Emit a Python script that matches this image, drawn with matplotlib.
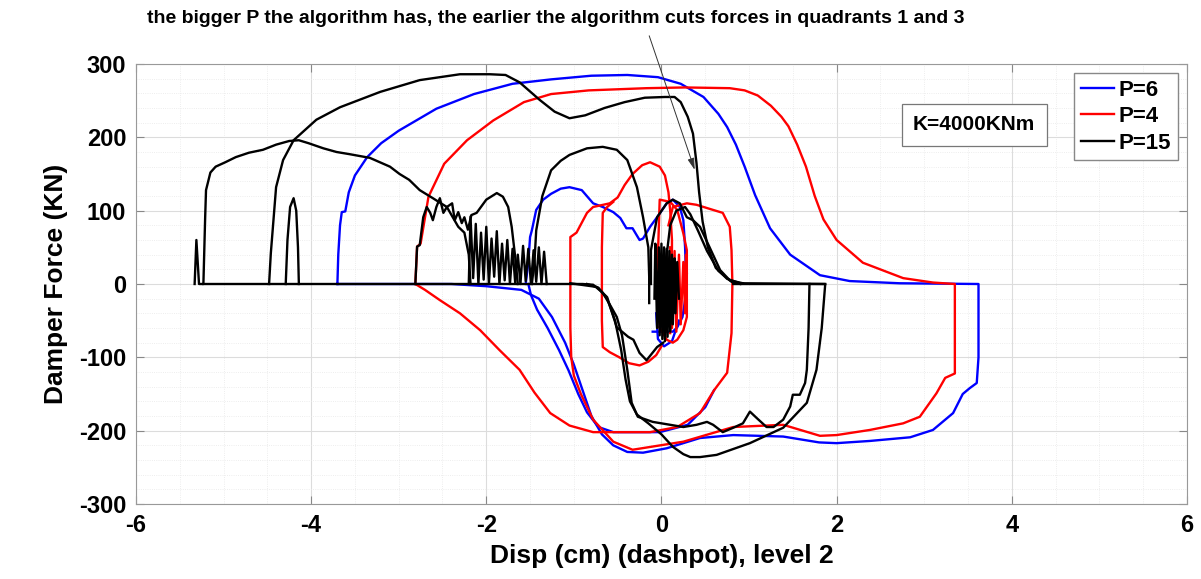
import numpy as np
import matplotlib.pyplot as plt
from matplotlib.ticker import MultipleLocator
from matplotlib.lines import Line2D

plt.rcParams['font.family'] = ['Liberation Sans', 'DejaVu Sans']
plt.rcParams['font.weight'] = 'bold'
plt.rcParams['axes.unicode_minus'] = False

# DATA (disp in cm, force in KN) #

# P=6 (blue)
p6_outer = [(-3.70, 0), (-3.69, 40), (-3.67, 80), (-3.65, 98), (-3.61, 99), (-3.57, 125), (-3.50, 148),
            (-3.36, 173), (-3.20, 192), (-3.00, 209), (-2.57, 239), (-2.14, 259), (-1.70, 273),
            (-1.26, 279), (-0.80, 284), (-0.39, 285), (-0.04, 282), (0.22, 273), (0.48, 255),
            (0.65, 232), (0.75, 214), (0.85, 190), (0.95, 160), (1.07, 121), (1.24, 76), (1.47, 40),
            (1.81, 12), (2.15, 4), (2.72, 1), (3.62, 0), (3.62, -100), (3.60, -135), (3.52, -142),
            (3.44, -150), (3.33, -176), (3.10, -199), (2.84, -209), (2.38, -214), (2.00, -217),
            (1.80, -216), (1.39, -208), (0.82, -206), (0.44, -210), (0.06, -224), (-0.21, -230),
            (-0.39, -229), (-0.55, -220), (-0.68, -205), (-0.80, -180), (-0.90, -145), (-1.00, -110),
            (-1.10, -80), (-1.25, -45), (-1.40, -20), (-1.60, -8), (-2.00, -3), (-2.40, 0), (-3.70, 0)]
p6_inner = [(-1.55, 0), (-1.52, 30), (-1.50, 64), (-1.48, 73), (-1.43, 101), (-1.35, 115), (-1.26, 123),
            (-1.15, 130), (-1.05, 132), (-0.91, 128), (-0.78, 110), (-0.67, 105), (-0.55, 98),
            (-0.47, 90), (-0.40, 76), (-0.33, 76), (-0.25, 60), (-0.21, 62), (-0.13, 78), (-0.05, 91),
            (0.06, 110), (0.13, 115), (0.21, 105), (0.25, 87), (0.27, 50), (0.28, 10), (0.27, -22),
            (0.24, -45), (0.18, -59), (0.13, -65), (-0.10, -65)]
p6_small = [(0.20, -50), (0.12, -78), (0.03, -85), (-0.04, -75), (-0.06, -40)]
p6_lower = [(-1.52, 0), (-1.49, -15), (-1.42, -35), (-1.30, -60), (-1.17, -90), (-1.06, -118),
            (-0.95, -150), (-0.85, -175), (-0.72, -195), (-0.55, -202), (-0.02, -202), (0.30, -192),
            (0.50, -168), (0.60, -145)]

# P=4 (red)
p4_outer = [(-2.81, 0), (-2.79, 51), (-2.75, 55), (-2.66, 119), (-2.48, 164), (-2.22, 196), (-1.92, 223),
            (-1.57, 248), (-1.26, 259), (-0.83, 264), (-0.17, 267), (0.27, 268), (0.78, 267),
            (0.95, 264), (1.10, 257), (1.25, 243), (1.37, 228), (1.45, 215), (1.55, 190), (1.65, 160),
            (1.75, 120), (1.85, 88), (2.00, 60), (2.30, 29), (2.76, 8), (3.10, 2), (3.35, 0),
            (3.35, -122), (3.24, -128), (3.14, -149), (2.95, -181), (2.76, -190), (2.38, -199),
            (2.00, -206), (1.81, -207), (1.39, -192), (0.82, -195), (0.25, -215), (-0.33, -226),
            (-0.55, -215), (-0.78, -185), (-0.92, -150), (-1.00, -125), (-1.03, -100), (-1.04, -60),
            (-1.04, 0), (-1.04, 64), (-0.97, 70), (-0.85, 97), (-0.78, 105), (-0.59, 110), (-0.50, 118),
            (-0.42, 135), (-0.33, 150), (-0.22, 162), (-0.13, 166), (-0.02, 160), (0.04, 148),
            (0.08, 125), (0.10, 100), (0.12, 60), (0.12, 0), (0.11, -50), (0.10, -67)]
p4_lower = [(-2.81, 0), (-2.70, -8), (-2.53, -22), (-2.30, -40), (-2.07, -63), (-1.85, -90),
            (-1.62, -117), (-1.45, -148), (-1.27, -176), (-1.05, -193), (-0.78, -202), (-0.13, -202),
            (0.18, -195), (0.44, -176), (0.60, -145), (0.75, -121), (0.80, -67), (0.81, 0), (0.80, 46),
            (0.78, 78), (0.70, 97), (0.59, 101), (0.40, 108), (0.29, 110), (0.13, 105), (0.08, 80)]
p4_mid = [(-0.55, 112), (-0.62, 105), (-0.67, 97), (-0.68, 50), (-0.68, -50), (-0.67, -86),
          (-0.59, -93), (-0.48, -100), (-0.37, -108), (-0.25, -111), (-0.15, -106), (-0.06, -97),
          (0.00, -85)]
p4_ring = [(-0.02, -59), (-0.04, 40), (-0.02, 115), (0.10, 112), (0.18, 101), (0.25, 69), (0.29, 46),
           (0.29, -45), (0.25, -63), (0.18, -76), (0.13, -80), (0.06, -76), (-0.02, -59)]
p4_core = [(0.10, 50), (0.12, -60), (0.15, 45), (0.17, -65), (0.20, 40), (0.22, -55), (0.25, 30),
           (0.27, -40), (0.28, 40), (0.29, 15)]

# P=15 (black)
p15_left = [(-5.33, 0), (-5.31, 60), (-5.28, 0), (-5.23, 0), (-5.21, 90), (-5.20, 128), (-5.15, 152),
            (-5.09, 160), (-4.98, 166), (-4.86, 173), (-4.71, 179), (-4.55, 183), (-4.40, 190),
            (-4.25, 195), (-4.14, 196), (-4.03, 192), (-3.86, 185), (-3.71, 180), (-3.56, 177),
            (-3.33, 172), (-3.10, 160), (-2.99, 150), (-2.88, 142), (-2.76, 128), (-2.61, 117),
            (-2.45, 105), (-2.32, 78), (-2.25, 70), (-2.20, 40), (-2.18, 0)]
p15_spike = [(-4.29, 0), (-4.27, 60), (-4.24, 105), (-4.20, 117), (-4.17, 100), (-4.15, 50), (-4.14, 0)]
p15_top = [(-4.48, 0), (-4.46, 42), (-4.43, 87), (-4.40, 132), (-4.32, 169), (-4.20, 196), (-3.94, 224),
           (-3.67, 241), (-3.21, 262), (-2.76, 278), (-2.30, 286), (-1.96, 286), (-1.78, 285),
           (-1.62, 275), (-1.39, 251), (-1.22, 235), (-1.05, 226), (-0.87, 230), (-0.65, 240),
           (-0.42, 248), (-0.19, 254), (0.04, 255), (0.15, 255), (0.22, 248), (0.30, 228),
           (0.36, 205), (0.40, 165), (0.43, 125), (0.47, 85), (0.53, 50), (0.62, 22), (0.75, 7),
           (0.90, 1), (1.87, 0)]
p15_wig1 = [(-2.81, 0), (-2.79, 51), (-2.76, 53), (-2.72, 91), (-2.68, 105), (-2.64, 97), (-2.61, 87),
            (-2.57, 105), (-2.53, 117), (-2.49, 97), (-2.45, 105), (-2.39, 110), (-2.36, 87),
            (-2.32, 98), (-2.28, 83), (-2.25, 91), (-2.21, 74), (-2.17, 94), (-2.11, 97), (-2.00, 115),
            (-1.88, 124), (-1.81, 119), (-1.75, 105), (-1.71, 78), (-1.67, 37), (-1.64, 0)]
p15_wig2 = [(-2.20, 0), (-2.18, 92), (-2.15, 8), (-2.12, 82), (-2.09, 0), (-2.06, 70), (-2.03, 6),
            (-2.00, 78), (-1.97, 0), (-1.94, 62), (-1.91, 10), (-1.88, 72), (-1.85, 0), (-1.82, 55),
            (-1.79, 5), (-1.76, 60), (-1.73, 0), (-1.70, 48), (-1.67, 2), (-1.64, 40), (-1.61, 0),
            (-1.58, 52), (-1.55, 4), (-1.52, 48), (-1.49, 0), (-1.46, 46), (-1.43, 3), (-1.40, 50),
            (-1.37, 0), (-1.34, 44), (-1.31, 0)]
p15_hump = [(-1.48, 0), (-1.45, 30), (-1.43, 73), (-1.36, 120), (-1.26, 155), (-1.15, 168),
            (-1.05, 176), (-0.85, 185), (-0.67, 187), (-0.51, 183), (-0.39, 169), (-0.28, 132),
            (-0.21, 91), (-0.15, 50), (-0.14, 10), (-0.14, -26)]
p15_core = [(-0.08, -20), (-0.07, 55), (-0.05, -60), (-0.03, 50), (-0.02, -70), (0.00, 55),
            (0.01, -75), (0.03, 50), (0.04, -78), (0.06, 48), (0.07, -72), (0.09, 45), (0.10, -65),
            (0.12, 40), (0.13, -55), (0.15, 35), (0.16, -40), (0.18, 30), (0.20, -20)]
p15_arc = [(-0.12, 0), (-0.12, 46), (-0.05, 91), (0.06, 110), (0.13, 115), (0.21, 110), (0.29, 91),
           (0.36, 87), (0.44, 78), (0.55, 50), (0.67, 19), (0.78, 5), (0.93, 1)]
p15_arc2 = [(0.05, 30), (0.10, 80), (0.17, 100), (0.27, 105), (0.33, 95), (0.42, 72), (0.52, 45),
            (0.65, 18), (0.80, 3), (0.90, 0)]
p15_low1 = [(-5.23, 0), (-0.90, 0), (-0.78, -1), (-0.67, -12), (-0.58, -30), (-0.51, -45), (-0.45, -70),
            (-0.39, -117), (-0.34, -162), (-0.27, -181), (-0.10, -188), (0.10, -192), (0.25, -195),
            (0.40, -192), (0.52, -188), (0.59, -192), (0.70, -202), (0.82, -196), (0.93, -190),
            (1.01, -174), (1.09, -183), (1.20, -195), (1.28, -195), (1.39, -185), (1.47, -167),
            (1.50, -151), (1.58, -151), (1.64, -135), (1.66, -117), (1.68, -60), (1.69, 0)]
p15_low2 = [(-0.85, 0), (-0.72, -5), (-0.62, -20), (-0.53, -50), (-0.46, -90), (-0.41, -130),
            (-0.36, -160), (-0.28, -178), (-0.15, -190), (0.00, -205), (0.13, -222), (0.25, -232),
            (0.33, -236), (0.44, -236), (0.63, -233), (1.01, -217), (1.39, -196), (1.66, -162),
            (1.77, -117), (1.83, -60), (1.87, 0), (0.82, 0)]
p15_low3 = [(-1.04, 1), (-0.74, -4), (-0.62, -18), (-0.51, -59), (-0.38, -72), (-0.32, -76),
            (-0.25, -94), (-0.17, -104), (-0.05, -86), (0.02, -80)]

series = [
    ('#0000ff', 'P=6', [p6_outer, p6_inner, p6_small, p6_lower]),
    ('#ff0000', 'P=4', [p4_outer, p4_lower, p4_mid, p4_ring, p4_core]),
    ('#000000', 'P=15', [p15_left, p15_spike, p15_top, p15_wig1, p15_wig2, p15_hump, p15_core,
                         p15_arc, p15_arc2, p15_low1, p15_low2, p15_low3]),
]

note = 'the bigger P the algorithm has, the earlier the algorithm cuts forces in quadrants 1 and 3'


# PLOT #

fig = plt.figure(figsize=(12.01, 5.79), dpi=100)
ax = fig.add_axes([0.1132, 0.1295, 0.8751, 0.76])

handles = []
for color, label, parts in series:
    for seg in parts:
        a = np.array(seg)
        ax.plot(a[:, 0], a[:, 1], color=color, lw=1.7, solid_joinstyle='round')
    handles.append(Line2D([], [], color=color, lw=1.7, label=label))

ax.set_xlim(-6, 6)
ax.set_ylim(-300, 300)
ax.xaxis.set_major_locator(MultipleLocator(2))
ax.yaxis.set_major_locator(MultipleLocator(100))
ax.xaxis.set_minor_locator(MultipleLocator(0.5))
ax.yaxis.set_minor_locator(MultipleLocator(20))
ax.grid(which='major', color='#dcdcdc', lw=0.8)
ax.grid(which='minor', color='#e8e8e8', lw=0.6, ls=':')
ax.set_axisbelow(True)
ax.tick_params(which='major', direction='in', length=6, top=True, right=True, color='#888888',
               labelsize=17, pad=7)
ax.tick_params(which='minor', length=0)
for s in ax.spines.values():
    s.set_color('#999999')

ax.set_xlabel('Disp (cm) (dashpot), level 2', fontsize=19, fontweight='bold', labelpad=5)
ax.set_ylabel('Damper Force (KN)', fontsize=19, fontweight='bold', labelpad=8)

ax.legend(handles=handles, loc='upper right', prop=dict(weight='bold', size=16), handlelength=1.5,
          handletextpad=0.2, labelspacing=0.25, borderpad=0.3, borderaxespad=0.4, fancybox=False,
          edgecolor='#888888', framealpha=1)

ax.text(3.57, 217, 'K=4000KNm', ha='center', va='center', fontsize=15, fontweight='bold',
        bbox=dict(boxstyle='square,pad=0.55', fc='white', ec='#777777', lw=0.9))

ax.annotate('', xy=(0.39, 152), xytext=(-0.15, 342), annotation_clip=False,
            arrowprops=dict(arrowstyle='-|>,head_length=0.7,head_width=0.2', color='#333333', lw=0.7))
fig.text(0.463, 0.968, note, ha='center', va='center', fontsize=14, fontweight='bold')

fig.savefig('out.png', dpi=100)
